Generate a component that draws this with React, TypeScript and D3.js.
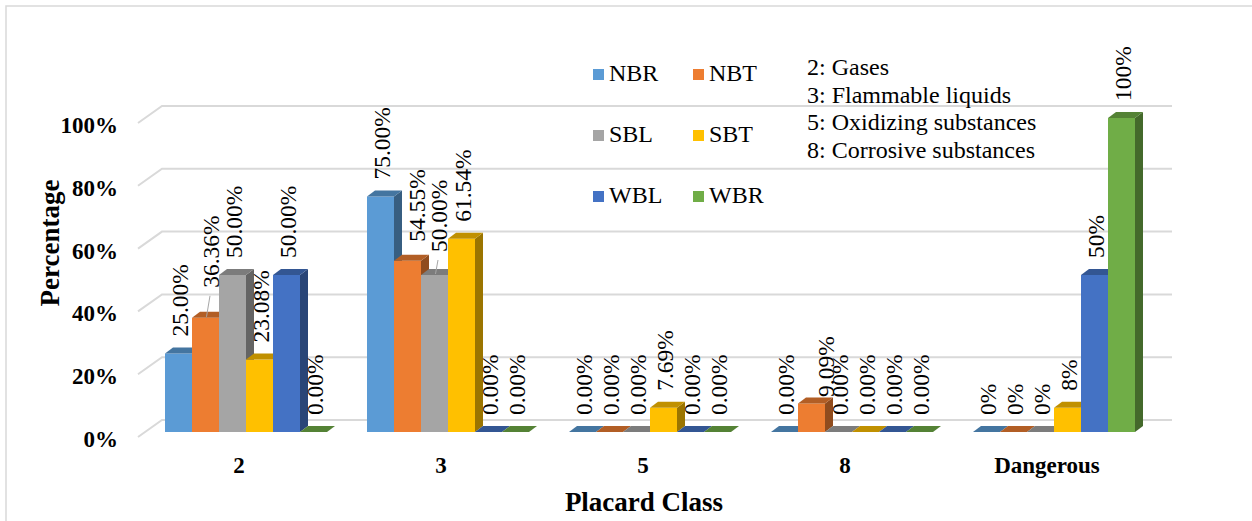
import * as d3 from 'd3';

// chart values (percent)
const categories = ['2', '3', '5', '8', 'Dangerous'];
const seriesNames = ['NBR', 'NBT', 'SBL', 'SBT', 'WBL', 'WBR'];
const seriesColors = ['#5B9BD5', '#ED7D31', '#A5A5A5', '#FFC000', '#4472C4', '#70AD47'];

const nbr = [25, 75, 0, 0, 0];
const nbt = [36.36, 54.55, 0, 9.09, 0];
const sbl = [50, 50, 0, 0, 0];
const sbt = [23.08, 61.54, 7.69, 0, 7.69];
const wbl = [50, 0, 0, 0, 50];
const wbr = [0, 0, 0, 0, 100];
const seriesValues = [nbr, nbt, sbl, sbt, wbl, wbr];

// decimals shown in the data labels of each category
const labelDecimals = [2, 2, 2, 2, 0];

const yTicks = [0, 20, 40, 60, 80, 100];

const classNotes = ['2: Gases', '3: Flammable liquids', '5: Oxidizing substances', '8: Corrosive substances'];

// manual label moves (Excel pushed a few labels aside), [dx, dy, leader]
const labelNudge: Record<string, [number, number, boolean]> = {
    '2|NBT': [4.5, -13, true],
    '3|NBT': [8, -2, false],
    '3|SBL': [3.5, -6, true],
    '8|NBT': [13.5, 10.5, false],
};

const W = 1252;
const H = 521;
const FONT = "'Liberation Serif', 'Times New Roman', serif";
const GRID = '#d9d9d9';

// 3d offsets
const BACK_DX = 17, BACK_DY = -12;   // back wall relative to bar fronts
const FRONT_DX = -7, FRONT_DY = 5;   // floor front edge relative to bar fronts
const BAR_DX = 8, BAR_DY = -6;       // depth of each bar

export default function App() {
    const x0 = d3.scaleBand<string>()
        .domain(categories)
        .range([145, 1155])
        .paddingInner(0.198)
        .paddingOuter(0.099);

    const x1 = d3.scaleBand<string>()
        .domain(seriesNames)
        .range([0, x0.bandwidth()]);

    const y = d3.scaleLinear().domain([0, 100]).range([432, 118]);

    const left = x0.range()[0];
    const right = x0.range()[1];
    const bw = x1.bandwidth();

    const bars: JSX.Element[] = [];
    const labels: JSX.Element[] = [];

    categories.forEach((cat, ci) => {
        seriesNames.forEach((s, si) => {
            const v = seriesValues[si][ci];
            const bx = x0(cat)! + x1(s)!;
            const y0 = y(0);
            const yt = y(v);
            const base = d3.color(seriesColors[si])!;
            const top = base.darker(0.8).formatHex();
            const side = base.darker(1.4).formatHex();
            bars.push(
                <g key={`b-${cat}-${s}`}>
                    <rect x={bx} y={yt} width={bw} height={y0 - yt} fill={seriesColors[si]} />
                    <polygon
                        points={`${bx + bw},${y0} ${bx + bw + BAR_DX},${y0 + BAR_DY} ${bx + bw + BAR_DX},${yt + BAR_DY} ${bx + bw},${yt}`}
                        fill={side} />
                    <polygon
                        points={`${bx},${yt} ${bx + bw},${yt} ${bx + bw + BAR_DX},${yt + BAR_DY} ${bx + BAR_DX},${yt + BAR_DY}`}
                        fill={top} />
                </g>
            );

            const nudge = labelNudge[`${cat}|${s}`] || [0, 0, false];
            const cx = bx + bw / 2 + 1 + nudge[0];
            const ly = yt - 17 + nudge[1];
            const txt = d3.format(`.${labelDecimals[ci]}f`)(v) + '%';
            if (nudge[2]) {
                labels.push(
                    <line key={`l-${cat}-${s}`} x1={bx + bw / 2 + 1} y1={yt - 1} x2={cx - 1} y2={ly + 8}
                        stroke="#a6a6a6" strokeWidth={1} />
                );
            }
            labels.push(
                <text key={`t-${cat}-${s}`} transform={`translate(${cx},${ly}) rotate(-90)`}
                    dy="0.35em" fontSize={23.5} fontFamily={FONT} fill="#000">{txt}</text>
            );
        });
    });

    return (
        <svg width={W} height={H} style={{ position: 'absolute', left: 0, top: 0, background: '#fff' }}>
            <rect x={6} y={6} width={W + 10} height={H + 10} fill="#fff" stroke={GRID} strokeWidth={1.5} />

            {/* gridlines: back wall + left side wall */}
            {yTicks.map(t => (
                <g key={`g-${t}`}>
                    <polyline
                        points={`${left + FRONT_DX},${y(t) + FRONT_DY} ${left + BACK_DX},${y(t) + BACK_DY} ${right + BACK_DX},${y(t) + BACK_DY}`}
                        fill="none" stroke={GRID} strokeWidth={2} />
                    <text x={118} y={y(t) + BACK_DY + 27} textAnchor="end" fontSize={23}
                        fontWeight="bold" fontFamily={FONT}>{t}%</text>
                </g>
            ))}

            {bars}
            {labels}

            {/* category axis */}
            {categories.map(c => (
                <text key={`c-${c}`} x={x0(c)! + x0.bandwidth() / 2 + FRONT_DX} y={473}
                    textAnchor="middle" fontSize={23} fontWeight="bold" fontFamily={FONT}>{c}</text>
            ))}

            <text x={644} y={511} textAnchor="middle" fontSize={27} fontWeight="bold" fontFamily={FONT}>Placard Class</text>
            <text transform="translate(59,243) rotate(-90)" textAnchor="middle" fontSize={27}
                fontWeight="bold" fontFamily={FONT}>Percentage</text>

            {/* legend */}
            {seriesNames.map((s, i) => {
                const col = i % 2;
                const row = Math.floor(i / 2);
                const lx = 593 + col * 100;
                const base = 81 + row * 61;
                return (
                    <g key={`lg-${s}`}>
                        <rect x={lx} y={base - 12} width={11} height={11} fill={seriesColors[i]} />
                        <text x={lx + 16} y={base} fontSize={24} fontFamily={FONT}>{s}</text>
                    </g>
                );
            })}

            {classNotes.map((n, i) => (
                <text key={`n-${i}`} x={807} y={75 + i * 27.7} fontSize={24} fontFamily={FONT}>{n}</text>
            ))}
        </svg>
    );
}
